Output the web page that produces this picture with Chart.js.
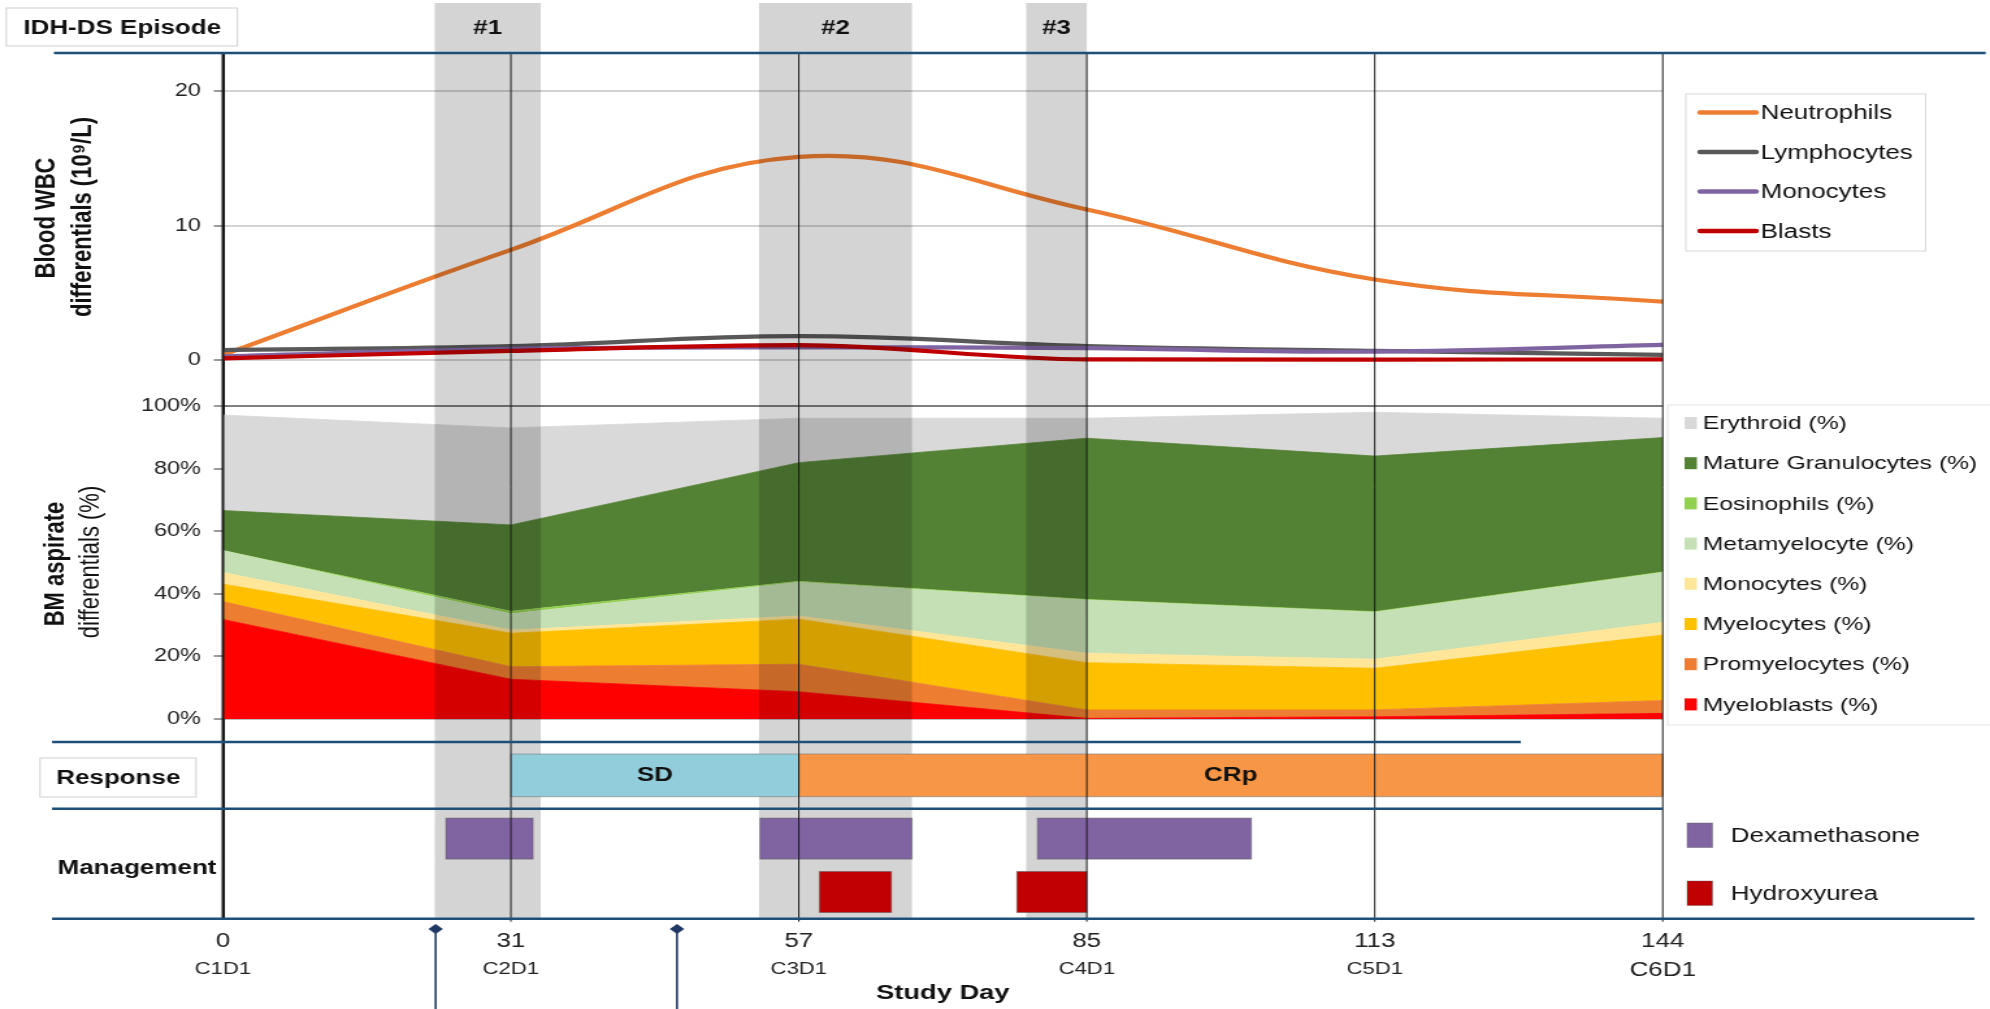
<!DOCTYPE html>
<html>
<head>
<meta charset="utf-8">
<script src="https://cdn.jsdelivr.net/npm/chart.js@4.4.1/dist/chart.umd.min.js"></script>
<style>
  html, body { margin: 0; padding: 0; background: #fff; overflow: hidden; }
</style>
</head>
<body>
<!-- the figure is horizontally stretched, so draw it narrow and widen the canvas with css -->
<canvas id="chart" width="1531" height="1009" style="width:1990px;height:1009px;display:block"></canvas>
<script>
const dayLabels = ['0', '31', '57', '85', '113', '144'];
const cycleLabels = ['C1D1', 'C2D1', 'C3D1', 'C4D1', 'C5D1', 'C6D1'];
const studyDays = [0, 31, 57, 85, 113, 144];

// blood WBC differentials (10^9/L)
const wbcNames = ['Neutrophils', 'Lymphocytes', 'Monocytes', 'Blasts'];
const neutrophils = [0.4, 8.2, 15.1, 11.2, 6.0, 4.35];
const lymphocytes = [0.76, 1.05, 1.8, 1.06, 0.7, 0.4];
const monocytes = [0.3, 0.85, 0.96, 0.9, 0.64, 1.14];
const blasts = [0.15, 0.7, 1.13, 0.07, 0.05, 0.07];
const wbcTicks = [0, 10, 20];

// BM aspirate differentials (%), bottom of the stack first
const bmNames = ['Myeloblasts (%)', 'Promyelocytes (%)', 'Myelocytes (%)', 'Monocytes (%)',
  'Metamyelocyte (%)', 'Eosinophils (%)', 'Mature Granulocytes (%)', 'Erythroid (%)'];
const myeloblastsPct = [31.8, 12.7, 8.7, 0.2, 0.7, 1.8];
const promyelocytesPct = [5.7, 4.0, 8.8, 2.7, 2.2, 4.1];
const myelocytesPct = [5.6, 10.7, 14.4, 15.1, 13.3, 20.9];
const bmMonocytesPct = [3.7, 1.0, 1.0, 3.0, 2.9, 4.1];
const metamyelocytePct = [7.0, 5.2, 10.8, 17.0, 15.0, 15.9];
const eosinophilsPct = [0, 0.8, 0.3, 0.2, 0.2, 0.2];
const matureGranPct = [12.8, 27.6, 37.9, 51.5, 49.7, 42.9];
const erythroidPct = [30.5, 31.0, 14.2, 6.4, 14.0, 6.2];
const bmTicks = [0, 20, 40, 60, 80, 100];

// timeline (study days)
const episodeLabels = ['#1', '#2', '#3'];
const episodeStart = [22.8, 53.4, 79.1];
const episodeEnd = [33.7, 68.0, 85.0];
const responseLabels = ['SD', 'CRp'];
const responseStart = [31, 57];
const responseEnd = [57, 144];
const managementRows = ['Hydroxyurea', 'Dexamethasone'];
const dexStart = [24.0, 53.5, 80.2];
const dexEnd = [33.0, 68.0, 101.0];
const hydroxyStart = [59.0, 78.2];
const hydroxyEnd = [66.0, 85.0];
const markerDays = [22.9, 46.0];

const FONT = '"Liberation Sans", Arial, sans-serif';
Chart.defaults.font.family = FONT;
Chart.defaults.color = '#222';

const wbcColors = ['#ed7d31', '#595959', '#8064a2', '#c00000'];
const wbcData = [neutrophils, lymphocytes, monocytes, blasts];
const bmColors = ['#ff0000', '#ed7d31', '#ffc000', '#ffe699', '#c5e0b4', '#92d050', '#548235', '#d9d9d9'];
const bmData = [myeloblastsPct, promyelocytesPct, myelocytesPct, bmMonocytesPct,
  metamyelocytePct, eosinophilsPct, matureGranPct, erythroidPct];
const rowColors = { Hydroxyurea: '#c00000', Dexamethasone: '#8064a2' };

// study day -> position on the evenly spaced cycle axis
function dayPos(d) {
  for (let i = 0; i < studyDays.length - 1; i++) {
    if (d <= studyDays[i + 1]) return i + (d - studyDays[i]) / (studyDays[i + 1] - studyDays[i]);
  }
  return studyDays.length - 1;
}

function label(ctx, text, x, y, size, weight, align) {
  ctx.font = `${weight || 'normal'} ${size}px ${FONT}`;
  ctx.textAlign = align || 'center';
  ctx.textBaseline = 'middle';
  ctx.fillText(text, x, y);
}

function line(ctx, x0, y0, x1, y1) {
  ctx.beginPath();
  ctx.moveTo(x0, y0);
  ctx.lineTo(x1, y1);
  ctx.stroke();
}

const datasets = [];
wbcNames.forEach((name, i) => datasets.push({
  label: name, data: wbcData[i], yAxisID: 'yW',
  borderColor: wbcColors[i], backgroundColor: wbcColors[i],
  borderWidth: 4.2, pointRadius: 0, tension: 0.4, fill: false, order: 4 - i,
  cubicInterpolationMode: name === 'Blasts' ? 'monotone' : 'default'
}));
bmNames.forEach((name, i) => datasets.push({
  label: name, data: bmData[i], yAxisID: 'yB',
  borderColor: bmColors[i], backgroundColor: bmColors[i],
  borderWidth: 0.8, pointRadius: 0, tension: 0, fill: i === 0 ? 'origin' : '-1', order: 10
}));

const fitY = s => { s.width = 171.5; };

const figureParts = {
  id: 'figureParts',
  afterDatasetsDraw(chart) {
    const { ctx, chartArea: area, scales } = chart;
    const { x, yR, yM } = scales;
    const px = d => x.getPixelForValue(dayPos(d));
    ctx.save();

    // IDH-DS episodes, laid over the data
    ctx.fillStyle = 'rgba(0, 0, 0, 0.17)';
    episodeStart.forEach((s, i) => ctx.fillRect(px(s), 3, px(episodeEnd[i]) - px(s), area.bottom - 3));
    ctx.fillStyle = '#111';
    episodeLabels.forEach((t, i) => label(ctx, t, (px(episodeStart[i]) + px(episodeEnd[i])) / 2, 28, 20, 'bold'));

    // response row
    const respFill = ['#92cddc', '#f79646'];
    responseLabels.forEach((t, i) => {
      const x0 = px(responseStart[i]), x1 = px(responseEnd[i]);
      const y0 = yR.getPixelForValue(0.82), y1 = yR.getPixelForValue(0.18);
      ctx.fillStyle = respFill[i];
      ctx.fillRect(x0, y0, x1 - x0, y1 - y0);
      ctx.strokeStyle = 'rgba(120,120,120,0.6)';
      ctx.lineWidth = 1;
      ctx.strokeRect(x0, y0, x1 - x0, y1 - y0);
      ctx.fillStyle = '#111';
      label(ctx, t, (x0 + x1) / 2, (y0 + y1) / 2, 20, 'bold');
    });

    // management row
    const bar = (s, e, row) => {
      const r = managementRows.indexOf(row) + 0.5;
      const x0 = px(s), x1 = px(e);
      const y0 = yM.getPixelForValue(r + 0.384), y1 = yM.getPixelForValue(r - 0.384);
      ctx.fillStyle = rowColors[row];
      ctx.fillRect(x0, y0, x1 - x0, y1 - y0);
      ctx.strokeStyle = 'rgba(90,90,90,0.5)';
      ctx.lineWidth = 1;
      ctx.strokeRect(x0, y0, x1 - x0, y1 - y0);
    };
    dexStart.forEach((s, i) => bar(s, dexEnd[i], 'Dexamethasone'));
    hydroxyStart.forEach((s, i) => bar(s, hydroxyEnd[i], 'Hydroxyurea'));

    // cycle lines and the y axis
    ctx.strokeStyle = '#1a1a1a';
    dayLabels.forEach((t, i) => {
      const xp = x.getPixelForValue(i);
      ctx.lineWidth = i === 0 ? 2 : 1;
      line(ctx, xp, area.top, xp, area.bottom + (i === 0 ? 0 : 3));
    });

    // dark blue separators
    ctx.strokeStyle = '#1f4e79';
    ctx.lineWidth = 2.5;
    line(ctx, 41.5, area.top, 1527.7, area.top);
    line(ctx, 40, yR.top, 1170, yR.top);
    line(ctx, 40, yR.bottom, area.right, yR.bottom);
    line(ctx, 40, area.bottom, 1519, area.bottom);

    // left hand labels
    ctx.lineWidth = 1;
    ctx.strokeStyle = '#d0d0d0';
    ctx.fillStyle = '#fff';
    ctx.fillRect(4.8, 8, 177.9, 38);
    ctx.strokeRect(4.8, 8, 177.9, 38);
    ctx.fillRect(30.8, 758, 120, 39);
    ctx.strokeRect(30.8, 758, 120, 39);
    ctx.fillStyle = '#111';
    label(ctx, 'IDH-DS Episode', 94, 28, 20, 'bold');
    label(ctx, 'Response', 91, 778, 20, 'bold');
    label(ctx, 'Management', 105.4, 868, 20, 'bold');

    const vtitle = (text, cx, cy, weight) => {
      ctx.save();
      ctx.translate(cx, cy);
      ctx.rotate(-Math.PI / 2);
      label(ctx, text, 0, 0, 22, weight);
      ctx.restore();
    };
    vtitle('Blood WBC', 36.2, 218, 'bold');
    vtitle('differentials (10⁹/L)', 63.8, 217, 'bold');
    vtitle('BM aspirate', 43, 564, 'bold');
    vtitle('differentials (%)', 70.4, 562, 'normal');

    // WBC legend
    ctx.fillStyle = '#fff';
    ctx.strokeStyle = '#d9d9d9';
    ctx.lineWidth = 1;
    ctx.fillRect(1297, 94, 184.5, 157);
    ctx.strokeRect(1297, 94, 184.5, 157);
    ctx.lineCap = 'round';
    wbcNames.forEach((n, i) => {
      const y = 112.5 + i * 39.5;
      ctx.strokeStyle = wbcColors[i];
      ctx.lineWidth = 4.5;
      line(ctx, 1308, y, 1351, y);
      ctx.fillStyle = '#111';
      label(ctx, n, 1354.5, y + 1, 20, 'normal', 'left');
    });
    ctx.lineCap = 'butt';

    // BM legend
    ctx.fillStyle = '#fff';
    ctx.strokeStyle = '#e3e3e3';
    ctx.lineWidth = 1;
    ctx.fillRect(1283, 405, 260, 320);
    ctx.strokeRect(1283, 405, 260, 320);
    bmNames.slice().reverse().forEach((n, i) => {
      const y = 423 + i * 40.2;
      ctx.fillStyle = bmColors[bmNames.length - 1 - i];
      ctx.fillRect(1296, y - 6, 9.5, 12);
      ctx.fillStyle = '#111';
      label(ctx, n, 1310, y + 1, 19, 'normal', 'left');
    });

    // management legend
    managementRows.slice().reverse().forEach((n, i) => {
      const y = 835 + i * 58;
      ctx.fillStyle = rowColors[n];
      ctx.fillRect(1298, y - 12, 19.5, 24.5);
      ctx.strokeStyle = 'rgba(90,90,90,0.4)';
      ctx.strokeRect(1298, y - 12, 19.5, 24.5);
      ctx.fillStyle = '#111';
      label(ctx, n, 1331.6, y + 1, 20, 'normal', 'left');
    });

    // x axis labels
    ctx.fillStyle = '#222';
    dayLabels.forEach((t, i) => {
      const xp = x.getPixelForValue(i);
      const last = i === dayLabels.length - 1;
      label(ctx, t, xp, 941, 20);
      label(ctx, cycleLabels[i], xp, last ? 970.5 : 969, last ? 20 : 17);
    });
    ctx.fillStyle = '#111';
    label(ctx, 'Study Day', (area.left + area.right) / 2, 993, 21, 'bold');

    // dosing markers below the axis
    ctx.fillStyle = '#1f3864';
    ctx.strokeStyle = '#1f3864';
    ctx.lineWidth = 1.6;
    markerDays.forEach(d => {
      const xp = px(d);
      line(ctx, xp, 929, xp, 1009);
      ctx.beginPath();
      ctx.moveTo(xp, 924);
      ctx.lineTo(xp + 5.6, 929);
      ctx.lineTo(xp, 934);
      ctx.lineTo(xp - 5.6, 929);
      ctx.closePath();
      ctx.fill();
    });

    ctx.restore();
  }
};

new Chart(document.getElementById('chart'), {
  type: 'line',
  data: { labels: dayLabels, datasets },
  options: {
    responsive: false,
    animation: false,
    devicePixelRatio: 1,
    events: [],
    layout: { padding: { top: 53, left: 0, right: 251.8, bottom: 0 } },
    plugins: { legend: { display: false }, title: { display: false }, tooltip: { enabled: false } },
    scales: {
      x: {
        type: 'category', offset: false,
        grid: { display: false }, ticks: { display: false }, border: { display: false },
        afterFit: s => { s.height = 1009 - 918.7; }
      },
      yM: {
        type: 'linear', position: 'left', stack: 'panels', stackWeight: 110,
        min: 0, max: 2.06,
        ticks: { display: false }, grid: { display: false }, border: { color: '#111', width: 2 },
        afterFit: fitY
      },
      yR: {
        type: 'linear', position: 'left', stack: 'panels', stackWeight: 66.7,
        min: 0, max: 1,
        ticks: { display: false }, grid: { display: false }, border: { color: '#111', width: 2 },
        afterFit: fitY
      },
      yB: {
        type: 'linear', position: 'left', stack: 'panels', stackWeight: 359,
        stacked: true, min: -7.35, max: 107.35,
        afterBuildTicks: s => { s.ticks = bmTicks.map(v => ({ value: v })); },
        ticks: { callback: v => v + '%', font: { size: 18 }, padding: 10 },
        grid: {
          color: c => c.tick && c.tick.value === 100 ? '#7f7f7f' : (c.tick && c.tick.value === 0 ? '#bfbfbf' : 'rgba(0,0,0,0)'),
          lineWidth: 2, tickColor: '#9a9a9a', tickLength: 7
        },
        border: { color: '#111', width: 2 },
        afterFit: fitY
      },
      yW: {
        type: 'linear', position: 'left', stack: 'panels', stackWeight: 330,
        min: -1.685, max: 22.81,
        afterBuildTicks: s => { s.ticks = wbcTicks.map(v => ({ value: v })); },
        ticks: { font: { size: 18 }, padding: 10 },
        grid: { color: '#d3d3d3', lineWidth: 2, tickColor: '#9a9a9a', tickLength: 7 },
        border: { color: '#111', width: 2 },
        afterFit: fitY
      }
    }
  },
  plugins: [figureParts]
});
</script>
</body>
</html>
